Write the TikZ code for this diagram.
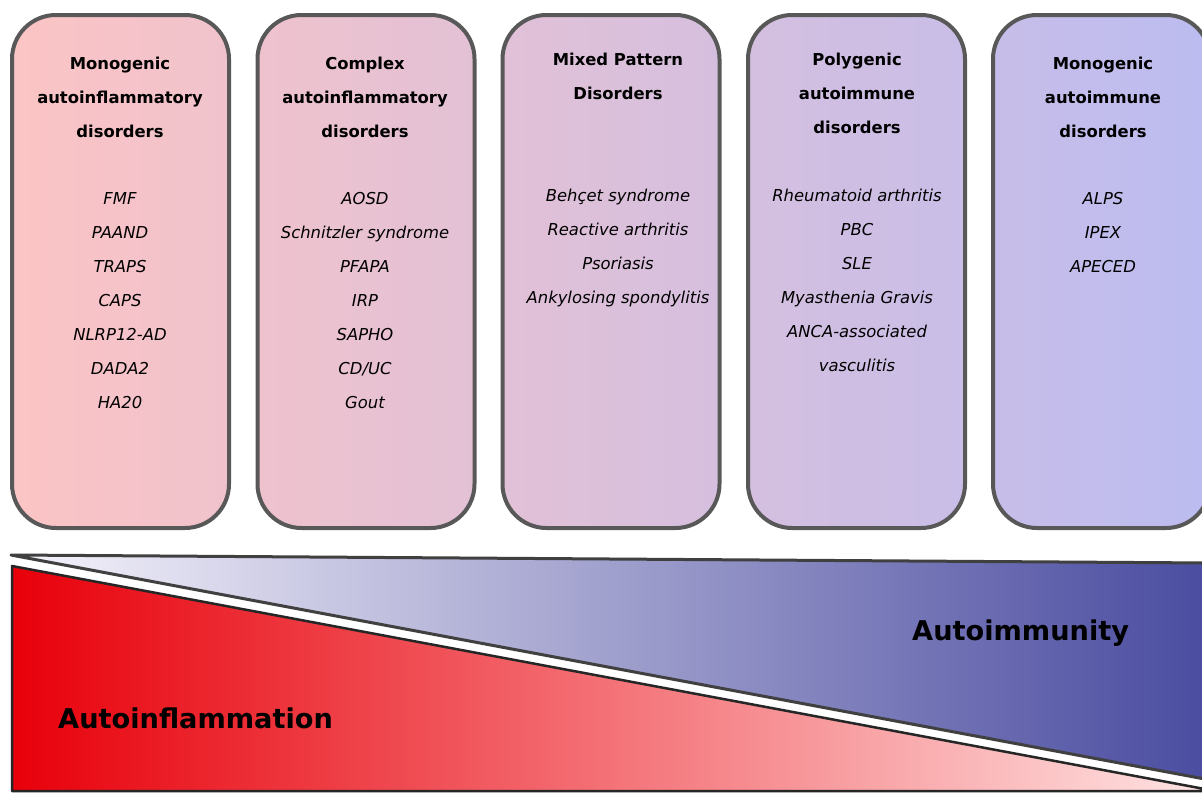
\documentclass[tikz,border=0pt]{standalone}
\usepackage{fontspec}
\setmainfont{DejaVu Sans}
\usetikzlibrary{positioning}
\definecolor{pinkbox}{RGB}{252,196,196}
\definecolor{lilacbox}{RGB}{188,188,240}
\definecolor{redfull}{RGB}{232,0,10}
\definecolor{redmid}{RGB}{252,72,78}
\definecolor{redpale}{RGB}{255,228,228}
\definecolor{bluepale}{RGB}{246,244,251}
\definecolor{bluefull}{RGB}{74,76,160}
\definecolor{rim}{RGB}{88,88,88}
\tikzset{%
   group/.style={draw=rim, line width=4pt, rounded corners=44pt, minimum width=217pt, minimum height=513pt, inner sep=0pt},
   grouptitle/.style={font=\bfseries\fontsize{16.4}{34}\selectfont, align=center, anchor=north, inner sep=0pt},
   disease/.style={font=\itshape\fontsize{16.4}{34}\selectfont, align=center, anchor=north, inner sep=0pt},
   axislabel/.style={font=\bfseries\fontsize{27.2}{30}\selectfont, inner sep=0pt, anchor=west},
}

\begin{document}
\begin{tikzpicture}[x=1pt, y=-1pt]
      \clip (0,0) rectangle (1202,795);
      \fill[white] (0,0) rectangle (1202,795);
      % disorder groups
      \node[group, left color=lilacbox!1!pinkbox, right color=lilacbox!19!pinkbox] (g1) at (120.5,271.5) {};
      \node[group, left color=lilacbox!21!pinkbox, right color=lilacbox!39!pinkbox] (g2) at (366,271.5) {};
      \node[group, left color=lilacbox!42!pinkbox, right color=lilacbox!60!pinkbox] (g3) at (611,271.5) {};
      \node[group, left color=lilacbox!62!pinkbox, right color=lilacbox!80!pinkbox] (g4) at (856.5,271.5) {};
      \node[group, left color=lilacbox!83!pinkbox, right color=lilacbox!100!pinkbox] (g5) at (1101.5,271.5) {};
      \node[grouptitle] (t1) at (120,56.5) {Monogenic\\autoinflammatory\\disorders};
      \node[grouptitle] (t2) at (365,56.5) {Complex\\autoinflammatory\\disorders};
      \node[grouptitle] (t3) at (618,52.5) {Mixed Pattern\\Disorders};
      \node[grouptitle] (t4) at (857,52.5) {Polygenic\\autoimmune\\disorders};
      \node[grouptitle] (t5) at (1103,56.5) {Monogenic\\autoimmune\\disorders};
      \node[disease] (l1) at (120,192.5) {FMF\\PAAND\\TRAPS\\CAPS\\NLRP12-AD\\DADA2\\HA20};
      \node[disease] (l2) at (365,192.5) {AOSD\\Schnitzler syndrome\\PFAPA\\IRP\\SAPHO\\CD/UC\\Gout};
      \node[disease] (l3) at (618,188.5) {Behçet syndrome\\Reactive arthritis\\Psoriasis\\Ankylosing spondylitis};
      \node[disease] (l4) at (857,188.5) {Rheumatoid arthritis\\PBC\\SLE\\Myasthenia Gravis\\ANCA-associated\\vasculitis};
      \node[disease] (l5) at (1103,192.5) {ALPS\\IPEX\\APECED};
      % spectrum wedges
      \path[draw=black!85, line width=2.5pt, line join=round, left color=redfull, middle color=redmid, right color=redpale]
         (12,566) -- (1210,790) -- (1210,791) -- (12,791) -- cycle;
      \path[draw=black!75, line width=3pt, line join=round, left color=bluepale, right color=bluefull]
         (11,555) -- (1210,563) -- (1210,780) -- cycle;
      \node[axislabel] (inflam) at (58,718) {Autoinflammation};
      \node[axislabel] (immun) at (912,633) {Autoimmunity};
\end{tikzpicture}
\end{document}
